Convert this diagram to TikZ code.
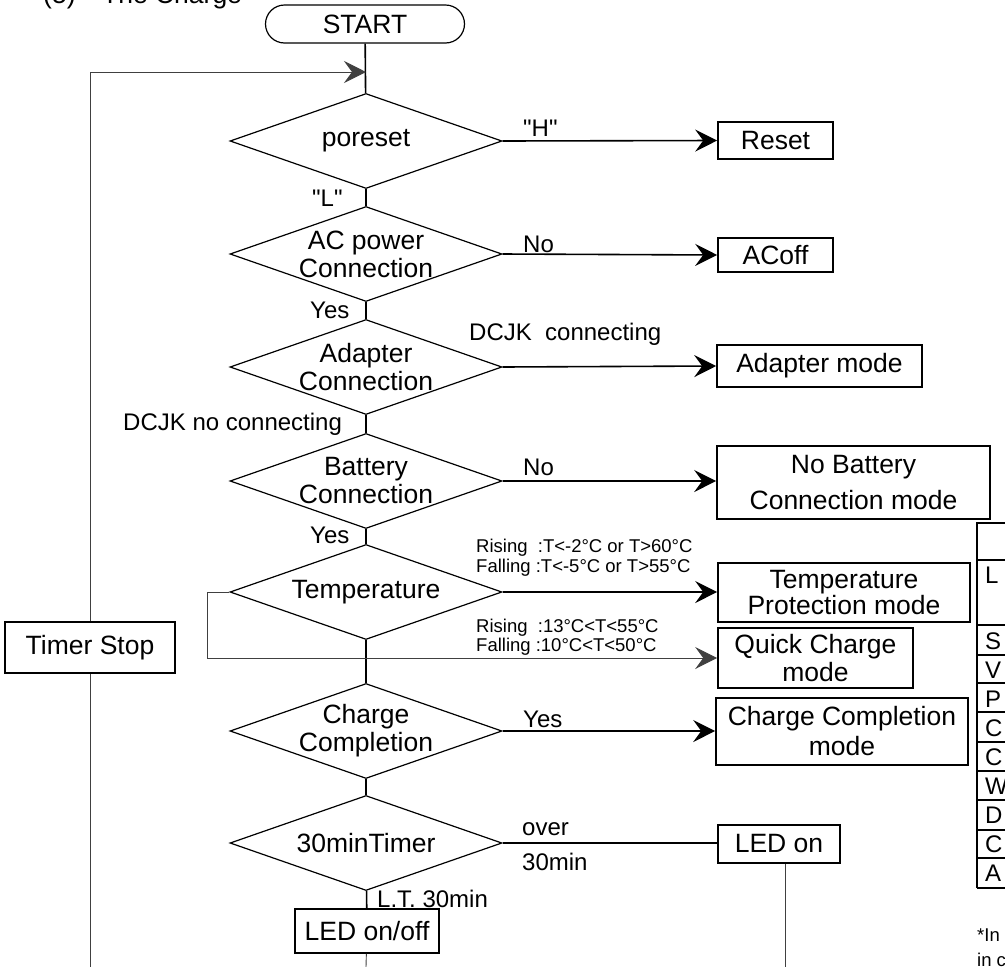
\documentclass[tikz,border=0pt]{standalone}
\usepackage{fontspec}
\setmainfont{Liberation Sans}
\usetikzlibrary{shapes.geometric,shapes.misc,arrows.meta}

\tikzset{
  decision/.style={diamond, draw, line width=1.2pt, minimum width=272pt, minimum height=95pt, inner sep=0pt},
  block/.style={rectangle, draw, line width=1.6pt, inner sep=0pt, align=center},
  flow/.style={line width=1.6pt},
  back/.style={line width=0.9pt, draw=black!75},
  tip/.style={-{Stealth[length=22pt,width=22pt,inset=8pt]}},
  lbl/.style={anchor=base west, inner sep=0pt, font=\fontsize{24}{26}\selectfont},
  small/.style={anchor=base west, inner sep=0pt, font=\fontsize{18.5}{20}\selectfont},
  every label/.style={align=center, inner sep=0pt}
}

\begin{document}
\begin{tikzpicture}[x=1pt, y=-1pt, font=\fontsize{26.5}{28}\selectfont]
  \useasboundingbox (0,0) rectangle (1005,967);

  \node (title) [anchor=base west, inner sep=0pt] at (43,3) {(5)\quad The Charge};

  % main column
  \node (start) [rounded rectangle, draw, line width=1.2pt, minimum width=199pt, minimum height=38pt, inner sep=0pt] at (365,24) {START};
  \node (poreset) [decision, label=center:poreset] at (366,141) {};
  \node (acpower) [decision, label=center:{AC power\\Connection}] at (366,254) {};
  \node (adapter) [decision, label=center:{Adapter\\Connection}] at (366,367) {};
  \node (battery) [decision, label=center:{Battery\\Connection}] at (366,481) {};
  \node (temp) [decision, label=center:Temperature] at (366,592) {};
  \node (complete) [decision, label=center:{Charge\\Completion}] at (366,731) {};
  \node (timer30) [decision, label=center:30minTimer] at (366,843) {};
  \node (ledblink) [block, minimum width=144pt, minimum height=44pt] at (367,931) {LED on/off};

  % result boxes
  \node (reset) [block, minimum width=115pt, minimum height=37pt] at (775.5,140.5) {Reset};
  \node (acoff) [block, minimum width=115pt, minimum height=34pt] at (775.5,255) {ACoff};
  \node (adaptmode) [block, minimum width=205pt, minimum height=42pt] at (819.5,366) {Adapter mode};
  \node (nobatt) [block, minimum width=273pt, minimum height=73pt, font=\fontsize{26.5}{36}\selectfont] at (853.5,482.5) {No Battery\\Connection mode};
  \node (protect) [block, minimum width=252pt, minimum height=59pt, font=\fontsize{26.5}{26}\selectfont] at (844,592.5) {Temperature\\Protection mode};
  \node (quick) [block, minimum width=195pt, minimum height=60pt, font=\fontsize{26.5}{28}\selectfont] at (815.5,658) {Quick Charge\\mode};
  \node (donemode) [block, minimum width=252pt, minimum height=67pt, font=\fontsize{26.5}{30}\selectfont] at (842,731.5) {Charge Completion\\mode};
  \node (ledon) [block, minimum width=122pt, minimum height=38pt] at (779,844) {LED on};
  \node (timerstop) [block, minimum width=170pt, minimum height=51pt] at (90,647.5) {Timer Stop};

  \coordinate (join) at (366,72);
  \coordinate (endleft) at (90,967);
  \coordinate (endmid) at (366,967);
  \coordinate (endright) at (785,967);

  % connectors
  \draw[flow] (start) -- (poreset);
  \draw[flow] (poreset) -- (acpower);
  \draw[flow] (acpower) -- (adapter);
  \draw[flow] (adapter) -- (battery);
  \draw[flow] (battery) -- (temp);
  \draw[flow] (temp) -- (complete);
  \draw[flow] (complete) -- (timer30);
  \draw[flow] (timer30) -- (ledblink);
  \draw[flow,tip] (poreset.east) -- (reset.west);
  \draw[flow,tip] (acpower.east) -- (acoff.west);
  \draw[flow,tip] (adapter.east) -- (adaptmode.west);
  \draw[flow,tip] (battery.east) -- (nobatt.west |- battery.east);
  \draw[flow,tip] (temp.east) -- (protect.west |- temp.east);
  \draw[back,tip] (temp.west) -- ++(-22,0) |- (quick.west);
  \draw[flow,tip] (complete.east) -- (donemode.west |- complete.east);
  \draw[flow] (timer30.east) -- (ledon.west |- timer30.east);
  \draw[back] (ledblink) -- (endmid);
  \draw[back] (ledon.south -| endright) -- (endright);
  \draw[back] (endleft) -- (timerstop);
  \draw[back,tip] (timerstop) |- (join);

  % branch labels
  \node (hlbl) [lbl] at (523,136) {\textquotedbl H\textquotedbl};
  \node (llbl) [lbl] at (312,206) {\textquotedbl L\textquotedbl};
  \node (noac) [lbl] at (523,252) {No};
  \node (yesac) [lbl] at (310,318) {Yes};
  \node (dcjkon) [lbl] at (469,340) {DCJK\ \ connecting};
  \node (dcjkoff) [lbl] at (123,430) {DCJK no connecting};
  \node (nobat) [lbl] at (523,475) {No};
  \node (yesbat) [lbl] at (310,543) {Yes};
  \node (riseout) [small] at (476,552) {Rising\ \ :T<-2°C or T>60°C};
  \node (fallout) [small] at (476,572) {Falling :T<-5°C or T>55°C};
  \node (risein) [small] at (476,632) {Rising\ \ :13°C<T<55°C};
  \node (fallin) [small] at (476,651) {Falling :10°C<T<50°C};
  \node (yesdone) [lbl] at (523,727) {Yes};
  \node (overlbl) [lbl] at (522,835) {over};
  \node (minlbl) [lbl] at (522,870) {30min};
  \node (ltlbl) [lbl] at (377,907) {L.T. 30min};

  % table at the right edge
  \draw[line width=1.2pt] (977,888) |- (1010,523);
  \foreach \y in {560,625,655,683,712,742,771,800,830,858,888}
    \draw[line width=1.2pt] (977,\y) -- (1010,\y);
  \node (rowl) [lbl] at (985,583) {L};
  \foreach \t/\y in {S/649,V/678,P/707,C/736,C/765,W/794,D/823,C/852,A/881}
    \node [lbl] at (985,\y) {\t};
  \node (note) [lbl, font=\fontsize{18.5}{20}\selectfont] at (977,941) {*In};
  \node (note2) [lbl, font=\fontsize{18.5}{20}\selectfont] at (977,966) {in c};
\end{tikzpicture}
\end{document}
